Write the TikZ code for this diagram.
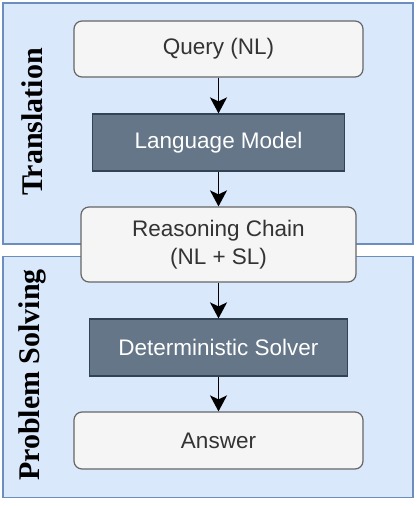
\documentclass[tikz,border=0pt]{standalone}
\usepackage{fontspec}
\setmainfont{Liberation Serif}
\setsansfont{Liberation Sans}
\usetikzlibrary{arrows.meta,positioning}
\definecolor{panelfill}{HTML}{DAE8FC}
\definecolor{paneldraw}{HTML}{6C8EBF}
\definecolor{lightfill}{HTML}{F5F5F5}
\definecolor{lightdraw}{HTML}{666666}
\definecolor{darkfill}{HTML}{647687}
\definecolor{darkdraw}{HTML}{314354}
\begin{document}
\begin{tikzpicture}[
    x=1pt, y=-1pt,
    panel/.style={
        rectangle, draw=paneldraw, fill=panelfill, line width=1.5pt,
        minimum width=410pt, minimum height=241pt
    },
    iobox/.style={
        rectangle, rounded corners=8pt, draw=lightdraw, fill=lightfill,
        line width=1.2pt, align=center, text=black!80,
        font=\sffamily\fontsize{22.5}{28}\selectfont
    },
    procbox/.style={
        rectangle, draw=darkdraw, fill=darkfill, line width=1.2pt,
        align=center, text=white,
        font=\sffamily\fontsize{22.5}{28}\selectfont
    },
    phase/.style={rotate=90, font=\bfseries\fontsize{30}{32}\selectfont},
    arrow/.style={-{Stealth[length=16pt, width=17pt, inset=4pt]}, line width=1.8pt}
]
\useasboundingbox (0,0) rectangle (416,506);

% Phases (background panels)
\node[panel] (transpanel) at (208, 123.5) {};
\node[panel] (solvepanel) at (208, 377) {};
\node[phase] (translabel) at (32, 122) {Translation};
\node[phase] (solvelabel) at (32, 375) {Problem Solving};

% Main flow
\node[iobox, minimum width=289pt, minimum height=56pt] (query) at (218.5, 49) {Query (NL)};
\node[procbox, minimum width=252pt, minimum height=57pt] (lm) at (218.5, 142.5) {Language Model};
\node[iobox, minimum width=275pt, minimum height=75pt] (chain) at (218.5, 244.5) {Reasoning Chain\\(NL + SL)};
\node[procbox, minimum width=258pt, minimum height=57pt] (solver) at (218.5, 347.5) {Deterministic Solver};
\node[iobox, minimum width=289pt, minimum height=57pt] (answer) at (218.5, 440.5) {Answer};

% Arrows
\draw[arrow] (query) -- (lm);
\draw[arrow] (lm) -- (chain);
\draw[arrow] (chain) -- (solver);
\draw[arrow] (solver) -- (answer);

\end{tikzpicture}
\end{document}
